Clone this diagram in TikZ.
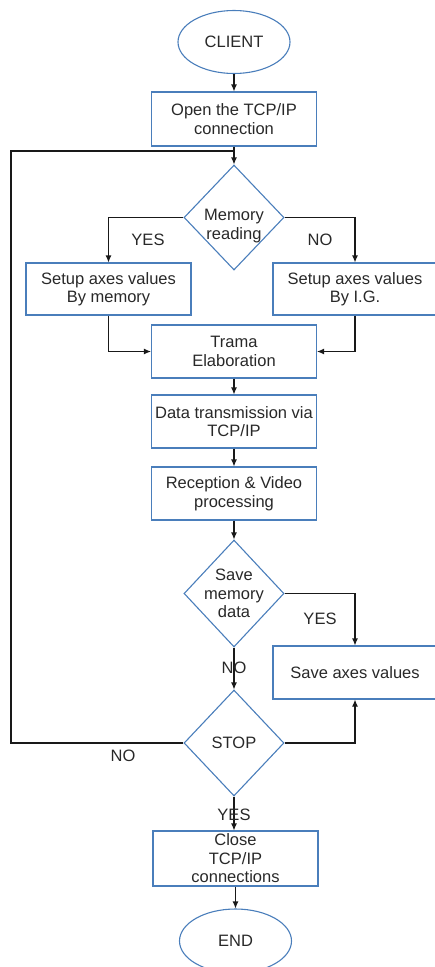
\documentclass[tikz,border=0pt]{standalone}
\usepackage{fontspec}
\setmainfont{Liberation Sans}
\usetikzlibrary{shapes.geometric,arrows.meta}
\definecolor{nodeblue}{RGB}{74,126,187}
\definecolor{txtgrey}{RGB}{40,40,40}
\definecolor{linegrey}{RGB}{25,25,25}
\begin{document}
\begin{tikzpicture}[x=1pt,y=-1pt,
 every node/.style={font=\fontsize{16.5}{18.5}\selectfont, text=txtgrey},
 procbox/.style={draw=nodeblue, line width=1.1pt, rectangle, minimum width=165pt, minimum height=53pt, align=center, inner sep=0pt},
 term/.style={draw=nodeblue, line width=1.1pt, ellipse, minimum width=112pt, minimum height=63pt, inner sep=0pt},
 dec/.style={draw=nodeblue, line width=1.1pt, diamond, minimum width=100pt, minimum height=105pt, inner sep=0pt},
 dectext/.style={align=center, inner sep=0pt},
 flow/.style={draw=linegrey, line width=1.1pt, -{Latex[length=7pt,width=6pt]}},
 plain/.style={draw=linegrey, line width=1.1pt},
 lbl/.style={inner sep=0pt}]
\useasboundingbox (0,0) rectangle (435,967);

\node[term] (client) at (234,42) {CLIENT};
\node[procbox, minimum height=54pt] (open) at (234,119) {Open the TCP/IP\\connection};
\node[dec] (mem) at (234,217.5) {};
\node[dectext] (memt) at (234,226) {Memory\\reading};
\node[procbox, minimum height=52pt] (setl) at (108.5,289) {Setup axes values\\By memory};
\node[procbox, minimum width=164pt, minimum height=52pt] (setr) at (355,289) {Setup axes values\\By I.G.};
\node[procbox] (trama) at (234,351.5) {Trama\\Elaboration};
\node[procbox] (data) at (234,421.5) {Data transmission via\\TCP/IP};
\node[procbox] (recep) at (234,493.5) {Reception \& Video\\processing};
\node[dec, minimum height=107pt] (savem) at (234,593.5) {};
\node[dectext] (savemt) at (234,593.5) {Save\\memory\\data};
\node[procbox, minimum width=164pt] (savebox) at (355,672.5) {Save axes values};
\node[dec, minimum height=106pt] (stop) at (234,743) {};
\node[dectext] (stopt) at (234,743) {STOP};
\node[procbox, minimum height=55pt] (close) at (235.5,858.5) {Close\\TCP/IP\\connections};
\node[term, minimum height=64pt] (end) at (235.5,941) {END};

\coordinate (loopTL) at (11,151);
\coordinate (join) at (234,151);

\draw[flow] (client) -- (open);
\draw[flow] (open) -- (mem);
\draw[flow] (mem.west) -| (setl.north);
\draw[flow] (mem.east) -| (setr.north);
\draw[flow] (setl.south) |- (trama.west);
\draw[flow] (setr.south) |- (trama.east);
\draw[flow] (trama) -- (data);
\draw[flow] (data) -- (recep);
\draw[flow] (recep) -- (savem);
\draw[flow] (savem.east) -| (savebox.north);
\draw[flow] (savem) -- (stop);
\draw[flow] (stop.east) -| (savebox.south);
\draw[flow] (stop.south) -- (stop.south |- close.north);
\draw[flow] (close) -- (end);
\draw[plain] (stop.west) -| (loopTL) -- (join);

\node[lbl] (yes1) at (148,240) {YES};
\node[lbl] (no1) at (320,240) {NO};
\node[lbl] (yes2) at (320,619) {YES};
\node[lbl] (no2) at (234,668) {NO};
\node[lbl] (no3) at (123,756) {NO};
\node[lbl] (yes3) at (234,815) {YES};
\end{tikzpicture}
\end{document}
